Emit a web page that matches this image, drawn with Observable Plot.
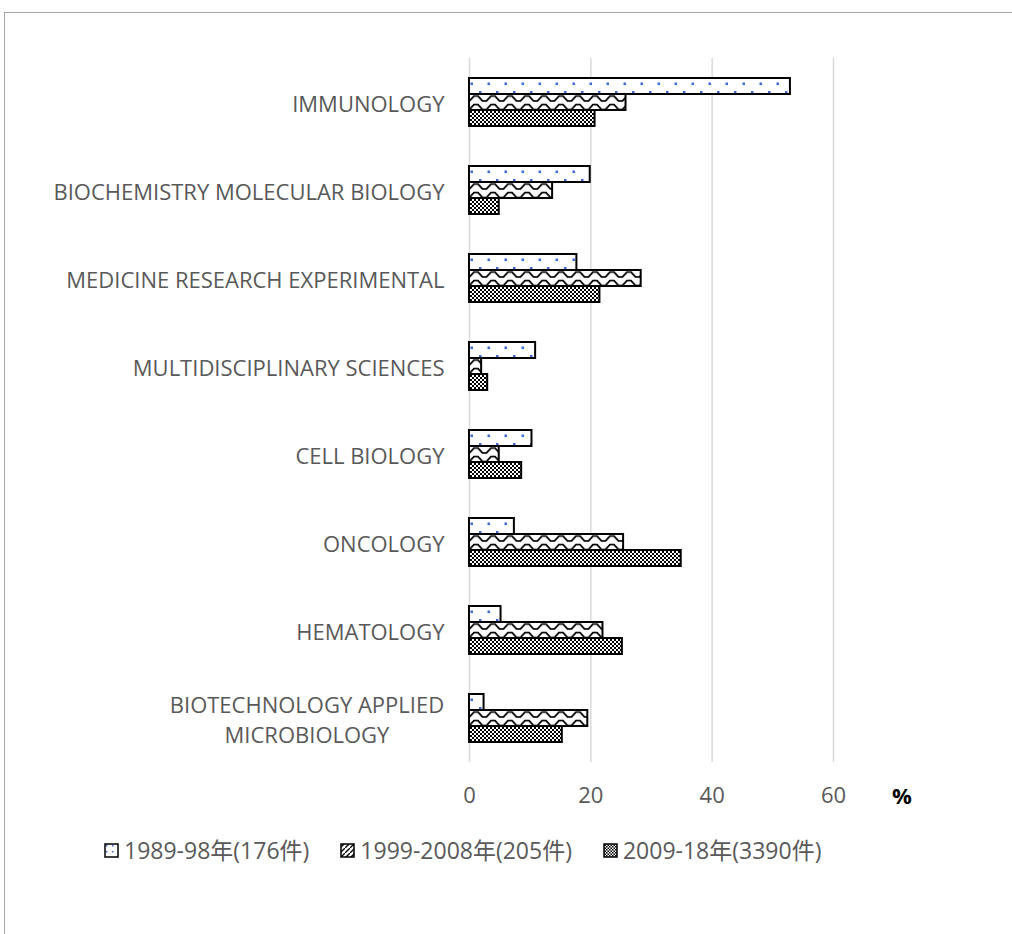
<!DOCTYPE html>
<html>
<head>
<meta charset="utf-8">
<script src="https://cdn.jsdelivr.net/npm/d3@7"></script>
<script src="https://cdn.jsdelivr.net/npm/@observablehq/plot@0.6"></script>
<style>
  body { margin: 0; background: #fff; font-family: "Open Sans", "Noto Sans CJK JP", sans-serif; }
  #frame { position: absolute; left: 4px; top: 12px; width: 1100px; height: 1000px;
           border-top: 1.5px solid #a6a6a6; border-left: 1.5px solid #a6a6a6; }
  #chart { position: absolute; left: 0; top: 0; }
  #chart svg text { fill: #595959; }
  #unit { position: absolute; left: 892px; top: 780px; line-height: 30px; font-weight: bold; font-size: 22px; color: #000; }
  #legend { position: absolute; left: 104px; top: 835px; display: flex; gap: 31px; line-height: 30px;
            font-size: 23px; color: #595959; white-space: nowrap; }
  .item { display: flex; align-items: center; gap: 5px; }
  .item svg { display: block; flex-shrink: 0; }
</style>
</head>
<body>
<svg width="0" height="0" style="position:absolute">
  <defs>
    <pattern id="dots" patternUnits="userSpaceOnUse" width="17" height="17">
      <rect width="17" height="17" fill="#fff"/>
      <rect x="3" y="5" width="2.5" height="2.5" fill="#3a6bd6"/>
      <rect x="11.5" y="13.5" width="2.5" height="2.5" fill="#3a6bd6"/>
    </pattern>
    <pattern id="wave" patternUnits="userSpaceOnUse" width="17" height="8.5">
      <rect width="17" height="8.5" fill="#fff"/>
      <path d="M0,1.5 L2,1.5 L6.5,6.5 L10.5,6.5 L15,1.5 L17,1.5" fill="none" stroke="#000" stroke-width="1.8"/>
    </pattern>
    <pattern id="checker" patternUnits="userSpaceOnUse" width="4" height="4">
      <rect width="4" height="4" fill="#fff"/>
      <rect x="0" y="0" width="2" height="2" fill="#000"/>
      <rect x="2" y="2" width="2" height="2" fill="#000"/>
    </pattern>
    <pattern id="swatchDots" patternUnits="userSpaceOnUse" width="6" height="6">
      <rect width="6" height="6" fill="#fff"/>
      <rect x="2" y="2" width="1.5" height="1.5" fill="#3a6bd6"/>
    </pattern>
    <pattern id="swatchWave" patternUnits="userSpaceOnUse" width="5" height="5">
      <rect width="5" height="5" fill="#fff"/>
      <path d="M0,5 L5,0" stroke="#000" stroke-width="1.3"/>
    </pattern>
    <pattern id="swatchChecker" patternUnits="userSpaceOnUse" width="3" height="3">
      <rect width="3" height="3" fill="#fff"/>
      <rect x="0" y="0" width="1.5" height="1.5" fill="#000"/>
      <rect x="1.5" y="1.5" width="1.5" height="1.5" fill="#000"/>
    </pattern>
  </defs>
</svg>
<div id="frame"></div>
<div id="chart"></div>
<div id="unit">%</div>
<div id="legend"></div>
<script>
// Research categories, top to bottom
const categories = [
  "IMMUNOLOGY",
  "BIOCHEMISTRY MOLECULAR BIOLOGY",
  "MEDICINE RESEARCH EXPERIMENTAL",
  "MULTIDISCIPLINARY SCIENCES",
  "CELL BIOLOGY",
  "ONCOLOGY",
  "HEMATOLOGY",
  "BIOTECHNOLOGY APPLIED MICROBIOLOGY"
];
// Axis text for each category (long one wraps onto two lines)
const categoryLabels = [
  "IMMUNOLOGY",
  "BIOCHEMISTRY MOLECULAR BIOLOGY",
  "MEDICINE RESEARCH EXPERIMENTAL",
  "MULTIDISCIPLINARY SCIENCES",
  "CELL BIOLOGY",
  "ONCOLOGY",
  "HEMATOLOGY",
  "BIOTECHNOLOGY APPLIED\nMICROBIOLOGY"
];
// Periods (legend entries)
const periods = ["1989-98年(176件)", "1999-2008年(205件)", "2009-18年(3390件)"];
// Share of papers (%) per category, one array per period
const period1989 = [52.9, 19.9, 17.7, 10.9, 10.3, 7.4, 5.2, 2.4];
const period1999 = [25.8, 13.7, 28.3, 2.0, 4.9, 25.4, 22.0, 19.5];
const period2009 = [20.7, 4.9, 21.5, 3.0, 8.6, 34.9, 25.2, 15.3];
const xTicks = [0, 20, 40, 60];

const fills = ["url(#dots)", "url(#wave)", "url(#checker)"];
const swatchFills = ["url(#swatchDots)", "url(#swatchWave)", "url(#swatchChecker)"];
const seriesValues = [period1989, period1999, period2009];

const rows = categories.flatMap((c, i) =>
  periods.map((p, j) => ({category: c, period: p, value: seriesValues[j][i]}))
);

const font = '"Open Sans", "Noto Sans CJK JP", sans-serif';

const chart = Plot.plot({
  width: 1012,
  height: 812,
  marginLeft: 469,
  marginRight: 179,
  marginTop: 57,
  marginBottom: 50,
  style: {fontFamily: font, fontSize: "22px", background: "transparent"},
  x: {domain: [0, 60]},
  y: {domain: periods, paddingInner: 0, paddingOuter: 1.09, axis: null},
  fy: {domain: categories, paddingInner: 0, paddingOuter: 0},
  color: {domain: periods, range: fills},
  marks: [
    Plot.gridX({ticks: xTicks, stroke: "#d9d9d9", strokeOpacity: 1, strokeWidth: 1.5}),
    Plot.barX(rows, {x: "value", y: "period", fy: "category", fill: "period", stroke: "#000", strokeWidth: 2}),
    Plot.axisX({ticks: xTicks, tickSize: 0, tickPadding: 25, label: null, fontSize: 22}),
    Plot.axisFy({
      anchor: "left", tickSize: 0, tickPadding: 25, label: null, lineHeight: 1.33, fontSize: 22,
      tickFormat: d => categoryLabels[categories.indexOf(d)]
    })
  ]
});
document.getElementById("chart").appendChild(chart);

// Centre the lines of any wrapped category label within its own block
chart.querySelectorAll("text").forEach(t => {
  const spans = t.querySelectorAll("tspan");
  if (spans.length > 1) {
    const w = t.getBBox().width;
    t.setAttribute("text-anchor", "middle");
    const tr = t.getAttribute("transform") || "";
    t.setAttribute("transform", tr + ` translate(${-w / 2},0)`);
  }
});

// Legend
const legend = d3.select("#legend");
periods.forEach((p, j) => {
  const item = legend.append("div").attr("class", "item");
  const sw = item.append("svg").attr("width", 15).attr("height", 15);
  sw.append("rect").attr("x", 1).attr("y", 1).attr("width", 13).attr("height", 13)
    .attr("fill", swatchFills[j]).attr("stroke", "#000").attr("stroke-width", 1.5);
  item.append("span").text(p);
});
</script>
</body>
</html>
